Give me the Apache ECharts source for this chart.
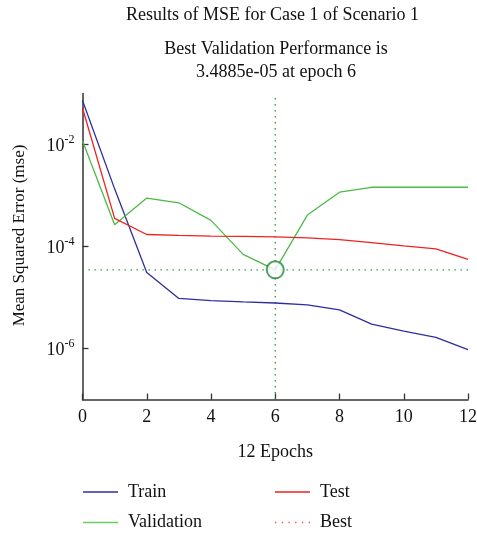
<!DOCTYPE html>
<html>
<head>
<meta charset="utf-8">
<script src="https://cdn.jsdelivr.net/npm/echarts@6/dist/echarts.min.js"></script>
<style>
html,body{margin:0;padding:0;background:#fff;}
#chart{width:477px;height:535px;}
</style>
</head>
<body>
<div id="chart"></div>
<script>
const epochs = [0,1,2,3,4,5,6,7,8,9,10,11,12];
const trainMSE = [7.3e-2,1.35e-3,3.1e-5,9.6e-6,8.7e-6,8.2e-6,7.8e-6,7.2e-6,5.7e-6,3.0e-6,2.2e-6,1.66e-6,9.5e-7];
const testMSE = [5.2e-2,3.56e-4,1.72e-4,1.65e-4,1.6e-4,1.58e-4,1.55e-4,1.48e-4,1.37e-4,1.19e-4,1.03e-4,9.0e-5,5.6e-5];
const validationMSE = [1.18e-2,2.66e-4,8.9e-4,7.2e-4,3.25e-4,7.0e-5,3.4885e-5,4.13e-4,1.16e-3,1.45e-3,1.45e-3,1.45e-3,1.45e-3];
const bestEpoch = 6;
const bestValue = 3.4885e-5;
const yMin = 1e-7, yMax = 1e-1;
const xMin = 0, xMax = 12;
const yTickValues = [1e-6,1e-4,1e-2];
const titleText = 'Results of MSE for Case 1 of Scenario 1';
const subText = 'Best Validation Performance is\n3.4885e-05 at epoch 6';

const FONT = 'Liberation Serif';
const FS = 18;
const pair = (ys) => epochs.map((e,i)=>[e, ys[i]]);

const solidIcon = 'path://M0,0H35V1.4H0Z';
const dotIcon = 'path://M0,0h1.4v1.4h-1.4z M6.7,0h1.4v1.4h-1.4z M13.4,0h1.4v1.4h-1.4z M20.1,0h1.4v1.4h-1.4z M26.8,0h1.4v1.4h-1.4z M33.6,0h1.4v1.4h-1.4z';

function leg(name, left, top, icon){
  return {orient:'horizontal', left:left, top:top, padding:0, itemWidth:35, itemHeight:1.4, itemGap:10,
    icon:icon, data:[name], selectedMode:false,
    textStyle:{fontFamily:FONT, fontSize:FS, color:'#111', padding:[0,0,0,5]}};
}

const chart = echarts.init(document.getElementById('chart'));
chart.setOption({
  backgroundColor:'#fff',
  animation:false,
  textStyle:{fontFamily:FONT},
  title:[
    {text:titleText, left:267.5, top:1, textAlign:'center',
     textStyle:{fontFamily:FONT, fontSize:FS, fontWeight:'normal', color:'#111'}},
    {text:subText, left:271, top:33, textAlign:'center',
     textStyle:{fontFamily:FONT, fontSize:FS, fontWeight:'normal', color:'#111', lineHeight:23}}
  ],
  grid:{left:82.5, right:9, top:93.5, bottom:135.5, containLabel:false, outerBoundsMode:'none'},
  xAxis:{
    type:'value', min:xMin, max:xMax, interval:2,
    name:'12 Epochs', nameLocation:'middle', nameGap:44,
    nameTextStyle:{fontFamily:FONT, fontSize:FS, color:'#111'},
    axisLine:{lineStyle:{color:'#333', width:1.5}},
    axisTick:{inside:true, length:6, lineStyle:{color:'#333', width:1.3}},
    axisLabel:{fontFamily:FONT, fontSize:FS, color:'#111', margin:9},
    splitLine:{show:false}
  },
  yAxis:{
    type:'log', logBase:10, min:yMin, max:yMax,
    name:'Mean Squared Error (mse)', nameLocation:'middle', nameGap:54,
    nameTextStyle:{fontFamily:FONT, fontSize:17, color:'#111', padding:[0,0,0,22]},
    axisLine:{show:true, lineStyle:{color:'#333', width:1.5}},
    axisTick:{show:true, inside:true, length:6, customValues:yTickValues, lineStyle:{color:'#333', width:1.3}},
    axisLabel:{
      customValues:yTickValues, margin:8, color:'#111',
      formatter:(v)=>'{b|10}{s|' + Math.round(Math.log10(v)) + '}',
      rich:{
        b:{fontFamily:FONT, fontSize:FS, color:'#111', verticalAlign:'bottom', lineHeight:21},
        s:{fontFamily:FONT, fontSize:12, color:'#111', verticalAlign:'top', lineHeight:13}
      }
    },
    splitLine:{show:false}
  },
  legend:[
    leg('Train', 83, 483, solidIcon),
    leg('Test', 275, 483, solidIcon),
    leg('Validation', 83, 513.5, solidIcon),
    leg('Best', 275, 513.5, dotIcon)
  ],
  series:[
    {name:'Train', type:'line', data:pair(trainMSE), showSymbol:false, symbol:'none',
     lineStyle:{color:'#2e2e9e', width:1.3}, itemStyle:{color:'#2e2e9e'}, z:3},
    {name:'Validation', type:'line', data:pair(validationMSE), showSymbol:false, symbol:'none',
     lineStyle:{color:'#4cbb45', width:1.3}, itemStyle:{color:'#6acc66'}, z:3},
    {name:'Test', type:'line', data:pair(testMSE), showSymbol:false, symbol:'none',
     lineStyle:{color:'#ee2222', width:1.3}, itemStyle:{color:'#ee2222'}, z:4},
    {name:'Best', type:'line', data:[], symbol:'none',
     lineStyle:{color:'#ff4040'}, itemStyle:{color:'#ff5050'}},
    {name:'bestV', type:'line', data:[[bestEpoch,yMin],[bestEpoch,yMax]], symbol:'none', silent:true,
     lineStyle:{color:'#2a9a40', type:[1.4,4.6], width:1.3}, z:2},
    {name:'bestH', type:'line', data:[[xMin,bestValue],[xMax,bestValue]], symbol:'none', silent:true,
     lineStyle:{color:'#2a9a40', type:[1.4,4.6], width:1.3}, z:2},
    {name:'BestPoint', type:'scatter', data:[[bestEpoch,bestValue]], symbol:'emptyCircle', symbolSize:17,
     itemStyle:{color:'#1f8a3a', borderColor:'#1f8a3a', borderWidth:1.3}, z:5, silent:true}
  ]
});
</script>
</body>
</html>
